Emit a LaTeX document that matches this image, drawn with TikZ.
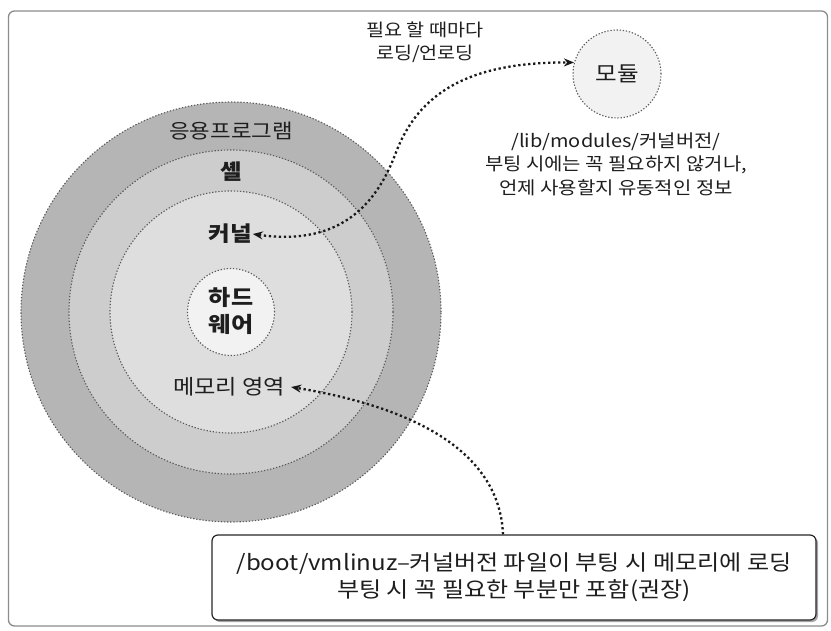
\documentclass[tikz,border=0pt]{standalone}
\usepackage{fontspec}
\setmainfont[FakeStretch=1.12]{Noto Sans CJK KR}
\usetikzlibrary{arrows.meta,calc}
\definecolor{ringA}{RGB}{181,181,181}
\definecolor{ringB}{RGB}{205,205,205}
\definecolor{ringC}{RGB}{222,222,222}
\definecolor{ringD}{RGB}{242,242,242}
\definecolor{txt}{RGB}{30,30,30}
\begin{document}
\begin{tikzpicture}[x=1pt,y=-1pt,
  ring/.style={circle, draw=black!65, dash pattern=on 1.3pt off 1.8pt, line width=1.1pt, inner sep=0pt},
  lbl/.style={text=txt, inner sep=1pt, align=center},
  conn/.style={line width=2.3pt, dash pattern=on 2.3pt off 2.7pt, black!90,
    {Stealth[length=10pt,width=8pt]}-{Stealth[length=10pt,width=8pt]}},
  oneway/.style={line width=2.3pt, dash pattern=on 2.3pt off 2.7pt, black!90,
    -{Stealth[length=10pt,width=8pt]}},
  every node/.style={font=\fontsize{17}{22}\selectfont}
]
\useasboundingbox (0,0) rectangle (831,630);
% frame
\node[draw=black!45, line width=1.3pt, rounded corners=6pt, minimum width=819pt, minimum height=615pt, inner sep=0pt] (frame) at (418,318.5) {};

% rings
\node[ring, fill=ringA, minimum size=420pt] (app) at (231,312) {};
\node[ring, fill=ringB, minimum size=324pt] (shell) at (231,312) {};
\node[ring, fill=ringC, minimum size=242pt] (kernel) at (231,312) {};
\node[ring, fill=ringD, minimum size=87pt] (hw) at (231,312) {};

% module
\node[ring, fill=ringD, minimum size=88pt] (module) at (617,74) {};
\node[lbl, font=\fontsize{21}{24}\selectfont] (modlbl) at (module) {모듈};

% labels
\node[lbl, font=\fontsize{20}{24}\selectfont] (applbl) at (231,131) {응용프로그램};
\node[lbl, font=\fontsize{21}{24}\selectfont\bfseries] (shelllbl) at (231,172) {셸};
\node[lbl, font=\fontsize{21}{24}\selectfont\bfseries] (kernellbl) at (230,234) {커널};
\node[lbl, font=\fontsize{21.5}{27}\selectfont\bfseries] (hwlbl) at (231,311) {하드\\웨어};
\node[lbl, font=\fontsize{20.7}{24}\selectfont, inner xsep=6pt] (memlbl) at (229,387) {메모리 영역};

\node[lbl, font=\fontsize{17.5}{23}\selectfont] (loadlbl) at (425,42) {필요 할 때마다\\로딩/언로딩};
\node[lbl, font=\fontsize{17.8}{23.5}\selectfont] (modinfo) at (616,164) {/lib/modules/커널버전/\\부팅 시에는 꼭 필요하지 않거나,\\언제 사용할지 유동적인 정보};

% boot box
\node[fill=black!35, rounded corners=6pt, minimum width=604pt, minimum height=85pt, inner sep=0pt] (boxshadow) at (516,579.5) {};
\node[draw=black!85, fill=white, line width=1.2pt, rounded corners=6pt, minimum width=604pt, minimum height=85pt, inner sep=0pt, align=center, text=txt, font=\fontsize{21.5}{27}\selectfont] (box) at (514,577.5) {/boot/vmlinuz–커널버전 파일이 부팅 시 메모리에 로딩\\부팅 시 꼭 필요한 부분만 포함(권장)};

% connectors
\draw[conn] (kernellbl.east) .. controls (330,245) and (372,215) .. (395,155)
  .. controls (418,92) and (470,62) .. (module.165);
\draw[oneway] ([xshift=-11pt]box.north) .. controls (500,460) and (430,410) .. (memlbl.east);
\end{tikzpicture}
\end{document}
